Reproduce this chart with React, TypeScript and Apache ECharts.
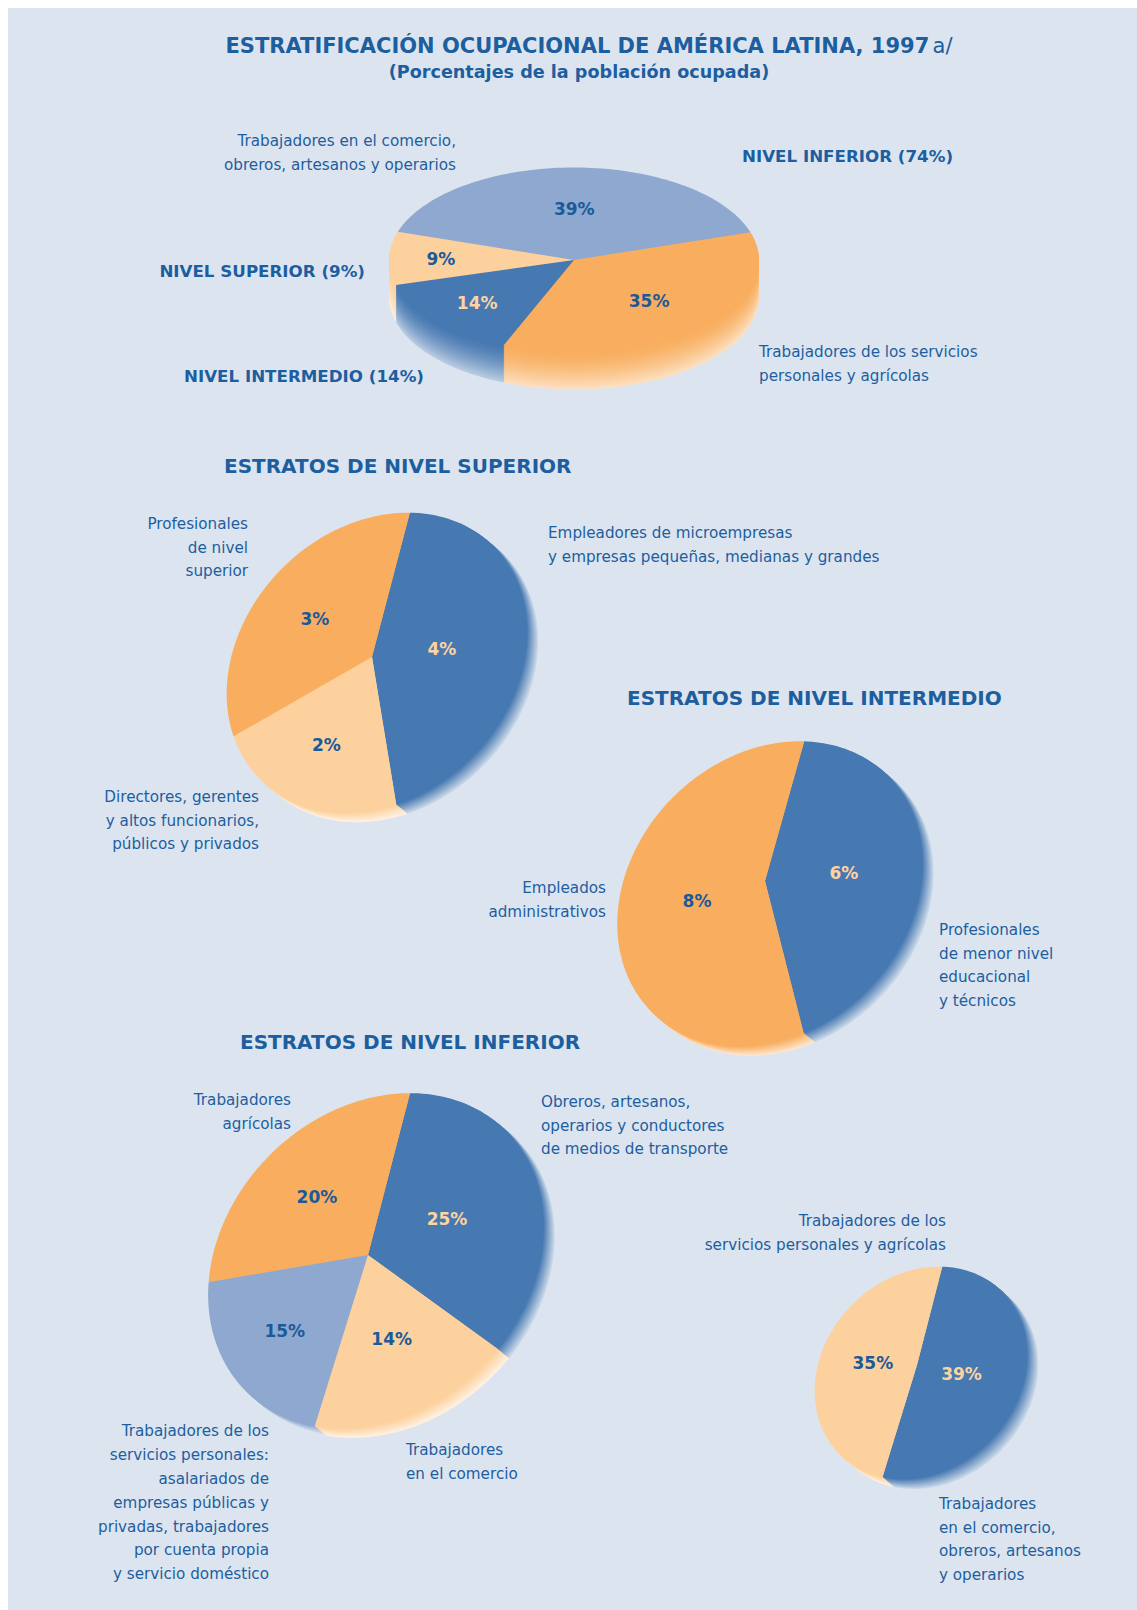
import React, { useEffect, useRef } from "react";
import * as echarts from "echarts";

// ---------------- DATA ----------------
const overviewCategories = [
  "Trabajadores en el comercio, obreros, artesanos y operarios",
  "Nivel superior",
  "Nivel intermedio",
  "Trabajadores de los servicios personales y agrícolas",
];
const overviewValues = [39, 9, 14, 35];

const superiorCategories = [
  "Empleadores de microempresas y empresas pequeñas, medianas y grandes",
  "Profesionales de nivel superior",
  "Directores, gerentes y altos funcionarios, públicos y privados",
];
const superiorValues = [4, 3, 2];

const intermedioCategories = [
  "Profesionales de menor nivel educacional y técnicos",
  "Empleados administrativos",
];
const intermedioValues = [6, 8];

const inferiorCategories = [
  "Obreros, artesanos, operarios y conductores de medios de transporte",
  "Trabajadores agrícolas",
  "Trabajadores de los servicios personales",
  "Trabajadores en el comercio",
];
const inferiorValues = [25, 20, 15, 14];

const inferiorGroupCategories = [
  "Trabajadores en el comercio, obreros, artesanos y operarios",
  "Trabajadores de los servicios personales y agrícolas",
];
const inferiorGroupValues = [39, 35];

// ---------------- STYLE ----------------
const BG = "#dce4f0";
const TEXT = "#1d5e9f";
const LBLUE = "#8ea8cf";
const PEACH = "#fdd19d";
const BLUE = "#4678b1";
const ORANGE = "#f8ae5e";
const DARK_LABEL = "#1b5a99";
const LIGHT_LABEL = "#fdd3a1";
const FONT = "'DejaVu Sans', sans-serif";
const OX = 8;
const OY = 8;

type PieLayout = {
  name: string;
  categories: string[];
  values: number[];
  colors: string[];
  cx: number; cy: number; a: number; b: number; rot: number; start: number;
  vx: number; vy: number; dx: number; dy: number; layers: number;
  fade: number; gamma: number; labelR: number[];
};

const pieLayouts: PieLayout[] = [
  { name: "overview", categories: overviewCategories, values: overviewValues, colors: [LBLUE, PEACH, BLUE, ORANGE],
    cx: 574, cy: 260, a: 185, b: 92.5, rot: 0, start: 17.5, vx: 574, vy: 260, dx: 0, dy: 1, layers: 37,
    fade: 0.62, gamma: 1.5, labelR: [0.55, 0.72, 0.7, 0.6] },
  { name: "superior", categories: superiorCategories, values: superiorValues, colors: [BLUE, ORANGE, PEACH],
    cx: 377, cy: 663, a: 165, b: 134, rot: 45, start: -121.7, vx: 372, vy: 657, dx: 0.9, dy: 0.75, layers: 12,
    fade: 0.7, gamma: 1.0, labelR: [0.45, 0.54, 0.6] },
  { name: "intermedio", categories: intermedioCategories, values: intermedioValues, colors: [BLUE, ORANGE],
    cx: 770, cy: 894, a: 167, b: 137, rot: 45, start: -116.6, vx: 765, vy: 881, dx: 0.9, dy: 0.75, layers: 12,
    fade: 0.7, gamma: 1.0, labelR: [0.5, 0.46] },
  { name: "inferior", categories: inferiorCategories, values: inferiorValues, colors: [BLUE, ORANGE, LBLUE, PEACH],
    cx: 376, cy: 1261, a: 184, b: 150, rot: 45, start: -82.5, vx: 368, vy: 1255, dx: 0.9, dy: 0.75, layers: 12,
    fade: 0.7, gamma: 1.0, labelR: [0.47, 0.55, 0.62, 0.53] },
  { name: "inferiorGroups", categories: inferiorGroupCategories, values: inferiorGroupValues, colors: [BLUE, PEACH],
    cx: 921, cy: 1373, a: 115, b: 97, rot: 45, start: -151.4, vx: 917, vy: 1365, dx: 0.9, dy: 0.8, layers: 12,
    fade: 0.7, gamma: 1.0, labelR: [0.42, 0.45] },
];

function mix(hex: string, t: number) {
  const n = parseInt(hex.slice(1), 16);
  const r = n >> 16, g = (n >> 8) & 255, b = n & 255;
  const f = (c: number) => Math.round(c + (255 - c) * t);
  return `rgb(${f(r)},${f(g)},${f(b)})`;
}

function ellipsePoint(p: PieLayout, tDeg: number) {
  const t = (tDeg * Math.PI) / 180;
  const c = Math.cos((p.rot * Math.PI) / 180);
  const s = Math.sin((p.rot * Math.PI) / 180);
  const u = p.a * Math.cos(t);
  const v = p.b * Math.sin(t);
  return [p.cx - OX + u * c - v * s, p.cy - OY - (u * s + v * c)];
}

function sliceAngles(p: PieLayout) {
  const total = p.values.reduce((s, v) => s + v, 0);
  let acc = p.start;
  return p.values.map((v) => {
    const t1 = acc;
    acc += (v / total) * 360;
    return [t1, acc];
  });
}

function slicePoints(p: PieLayout, angles: number[][], i: number, ox: number, oy: number) {
  const [t1, t2] = angles[i];
  const pts: number[][] = [[p.vx - OX + ox, p.vy - OY + oy]];
  const n = Math.max(2, Math.ceil((t2 - t1) / 1.5));
  for (let j = 0; j <= n; j++) {
    const e = ellipsePoint(p, t1 + ((t2 - t1) * j) / n);
    pts.push([e[0] + ox, e[1] + oy]);
  }
  return pts;
}

function buildSeries(p: PieLayout, zBase: number) {
  const angles = sliceAngles(p);
  const rimData: number[][] = [];
  for (let k = p.layers; k >= 1; k--) {
    for (let i = 0; i < p.values.length; i++) rimData.push([k, i]);
  }
  const rim = {
    type: "custom",
    name: p.name + "-rim",
    coordinateSystem: "none",
    silent: true,
    z: zBase,
    data: rimData,
    renderItem: (_params: any, api: any) => {
      const k = api.value(0);
      const i = api.value(1);
      const t = p.fade * Math.pow(k / p.layers, p.gamma);
      return {
        type: "polygon",
        shape: { points: slicePoints(p, angles, i, k * p.dx, k * p.dy) },
        style: { fill: mix(p.colors[i], t) },
      };
    },
  };
  const face = {
    type: "custom",
    name: p.name,
    coordinateSystem: "none",
    silent: true,
    z: zBase + 1,
    data: p.values.map((v, i) => ({ name: p.categories[i], value: [v, i] })),
    renderItem: (params: any, api: any) => {
      const i = params.dataIndex;
      const v = api.value(0);
      const [t1, t2] = angles[i];
      const e = ellipsePoint(p, (t1 + t2) / 2);
      const bx = p.vx - OX, by = p.vy - OY;
      const lx = bx + (e[0] - bx) * p.labelR[i];
      const ly = by + (e[1] - by) * p.labelR[i];
      return {
        type: "group",
        children: [
          { type: "polygon", shape: { points: slicePoints(p, angles, i, 0, 0) }, style: { fill: p.colors[i] } },
          {
            type: "text",
            x: lx,
            y: ly,
            style: {
              text: v + "%",
              fill: p.colors[i] === BLUE ? LIGHT_LABEL : DARK_LABEL,
              fontSize: 17,
              fontWeight: "bold",
              fontFamily: FONT,
              textAlign: "center",
              textVerticalAlign: "middle",
            },
          },
        ],
      };
    },
  };
  return [rim, face];
}

function textEl(text: string, x: number, y0: number, align: string, o: any = {}) {
  const fontSize = o.fontSize || 15.2;
  const lh = o.lineHeight || 23.6;
  return {
    type: "text",
    x: x - OX,
    y: y0 - OY - lh / 2,
    z: 100,
    style: {
      text,
      fill: TEXT,
      fontSize,
      fontFamily: FONT,
      fontWeight: o.bold ? "bold" : "normal",
      lineHeight: lh,
      textAlign: align,
      textVerticalAlign: "top",
    },
  };
}

const texts = [
  textEl("Trabajadores en el comercio,\nobreros, artesanos y operarios", 456, 141, "right"),
  textEl("NIVEL INFERIOR (74%)", 742, 156, "left", { bold: true, fontSize: 16.7 }),
  textEl("NIVEL SUPERIOR (9%)", 365, 271, "right", { bold: true, fontSize: 16.7 }),
  textEl("NIVEL INTERMEDIO (14%)", 424, 376, "right", { bold: true, fontSize: 16.7 }),
  textEl("Trabajadores de los servicios\npersonales y agrícolas", 759, 352, "left"),
  textEl("ESTRATOS DE NIVEL SUPERIOR", 224, 466, "left", { bold: true, fontSize: 20 }),
  textEl("Profesionales\nde nivel\nsuperior", 248, 524, "right"),
  textEl("Empleadores de microempresas\ny empresas pequeñas, medianas y grandes", 548, 533, "left"),
  textEl("Directores, gerentes\ny altos funcionarios,\npúblicos y privados", 259, 797, "right"),
  textEl("ESTRATOS DE NIVEL INTERMEDIO", 627, 698, "left", { bold: true, fontSize: 20 }),
  textEl("Empleados\nadministrativos", 606, 888, "right"),
  textEl("Profesionales\nde menor nivel\neducacional\ny técnicos", 939, 930, "left"),
  textEl("ESTRATOS DE NIVEL INFERIOR", 240, 1042, "left", { bold: true, fontSize: 20 }),
  textEl("Trabajadores\nagrícolas", 291, 1100, "right"),
  textEl("Obreros, artesanos,\noperarios y conductores\nde medios de transporte", 541, 1102, "left"),
  textEl(
    "Trabajadores de los\nservicios personales:\nasalariados de\nempresas públicas y\nprivadas, trabajadores\npor cuenta propia\ny servicio doméstico",
    269, 1431, "right", { lineHeight: 23.9 }
  ),
  textEl("Trabajadores\nen el comercio", 406, 1450, "left"),
  textEl("Trabajadores de los\nservicios personales y agrícolas", 946, 1221, "right"),
  textEl("Trabajadores\nen el comercio,\nobreros, artesanos\ny operarios", 939, 1504, "left"),
];

export default function App() {
  const ref = useRef<HTMLDivElement>(null);
  useEffect(() => {
    if (!ref.current) return;
    const chart = echarts.init(ref.current, undefined, { renderer: "svg" });
    const series: any[] = [];
    pieLayouts.forEach((p, idx) => series.push(...buildSeries(p, 2 + idx * 2)));
    chart.setOption({
      animation: false,
      backgroundColor: BG,
      series,
      graphic: {
        elements: [
          {
            type: "text",
            x: 589 - OX,
            y: 46 - OY,
            z: 100,
            style: {
              text: "{b|ESTRATIFICACIÓN OCUPACIONAL DE AMÉRICA LATINA, 1997} {n|a/}",
              textAlign: "center",
              textVerticalAlign: "middle",
              rich: {
                b: { fontSize: 21, fontWeight: "bold", fontFamily: FONT, fill: TEXT },
                n: { fontSize: 21, fontWeight: "normal", fontFamily: FONT, fill: TEXT },
              },
            },
          },
          {
            type: "text",
            x: 579 - OX,
            y: 72 - OY,
            z: 100,
            style: {
              text: "(Porcentajes de la población ocupada)",
              fill: TEXT,
              fontSize: 17.6,
              fontWeight: "bold",
              fontFamily: FONT,
              textAlign: "center",
              textVerticalAlign: "middle",
            },
          },
          ...texts,
        ],
      },
    });
    return () => chart.dispose();
  }, []);
  return (
    <div
      ref={ref}
      style={{ position: "absolute", left: 8, top: 8, width: 1129, height: 1602, background: BG }}
    />
  );
}
